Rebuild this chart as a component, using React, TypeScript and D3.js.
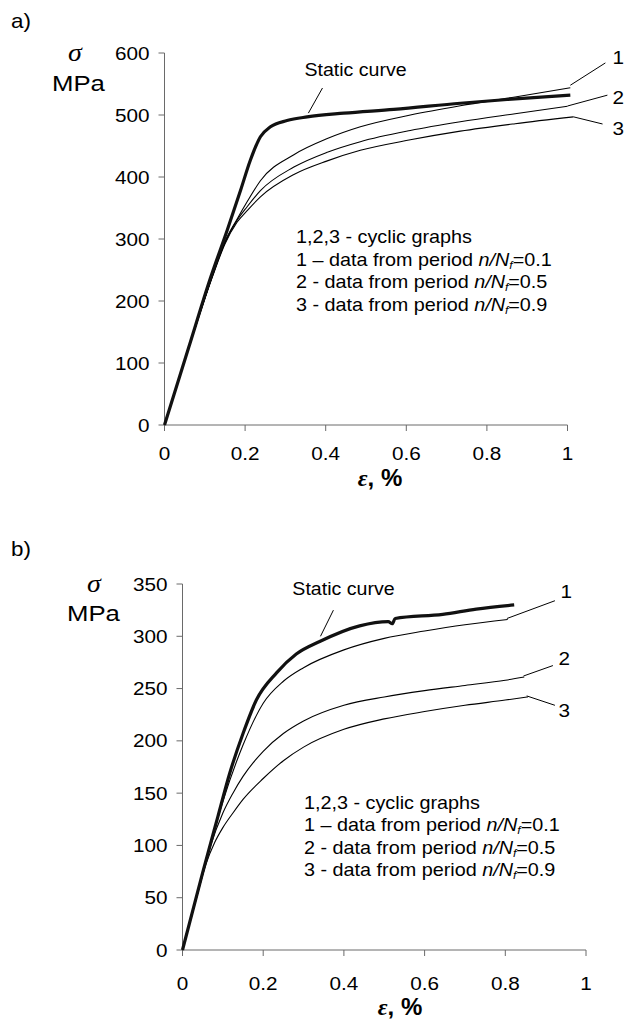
import React from 'react';
import * as d3 from 'd3';

// ---------- Panel a) data ----------
const aXTicks = [0, 0.2, 0.4, 0.6, 0.8, 1];
const aYTicks = [0, 100, 200, 300, 400, 500, 600];
const aStatic: [number, number][] = [
  [0, 0], [0.06, 125], [0.114, 237], [0.156, 315], [0.189, 379], [0.213, 427], [0.238, 465],
  [0.263, 481], [0.304, 491], [0.354, 497], [0.445, 503], [0.569, 509], [0.734, 519],
  [0.85, 525], [1.007, 532],
];
const aCyc1: [number, number][] = [
  [0, 0], [0.06, 124], [0.12, 243], [0.15, 296], [0.18, 332], [0.205, 360], [0.238, 394],
  [0.321, 436], [0.404, 462], [0.486, 481], [0.61, 500], [0.734, 515], [0.87, 529], [1.007, 544],
];
const aCyc2: [number, number][] = [
  [0, 0], [0.06, 124], [0.12, 242], [0.15, 294], [0.18, 330], [0.205, 352], [0.238, 378],
  [0.321, 416], [0.404, 440], [0.486, 457], [0.61, 475], [0.734, 489], [0.87, 502], [1.0, 514],
];
const aCyc3: [number, number][] = [
  [0, 0], [0.06, 124], [0.12, 241], [0.15, 292], [0.18, 327], [0.207, 347], [0.238, 368],
  [0.321, 404], [0.404, 426], [0.486, 443], [0.61, 460], [0.734, 474], [0.87, 486], [1.015, 497],
];
// leader lines: [from, to] and label anchor (data coords)
const aLeaders = [
  { label: '1', from: [1.007, 548], to: [1.094, 584], at: [1.126, 592] },
  { label: '2', from: [1.0, 514.5], to: [1.099, 532], at: [1.126, 528] },
  { label: '3', from: [1.015, 497], to: [1.087, 485.5], at: [1.126, 479] },
];
const aStaticLeader = { from: [0.357, 503], to: [0.392, 543.5], at: [0.474, 572] };

// ---------- Panel b) data ----------
const bXTicks = [0, 0.2, 0.4, 0.6, 0.8, 1];
const bYTicks = [0, 50, 100, 150, 200, 250, 300, 350];
const bStatic: [number, number][] = [
  [0, 0], [0.05, 74], [0.088, 128], [0.117, 169], [0.15, 207], [0.183, 239], [0.233, 265],
  [0.282, 283], [0.34, 295], [0.439, 310], [0.51, 314], [0.52, 312], [0.527, 317],
  [0.645, 321], [0.728, 326], [0.822, 330],
];
const bCyc1: [number, number][] = [
  [0, 0], [0.05, 73], [0.1, 142], [0.15, 196], [0.2, 236], [0.25, 257], [0.3, 270],
  [0.4, 287], [0.5, 298], [0.6, 305], [0.7, 311], [0.806, 316],
];
const bCyc2: [number, number][] = [
  [0, 0], [0.05, 72], [0.07, 100], [0.1, 131], [0.125, 150], [0.15, 166], [0.2, 190],
  [0.25, 207], [0.3, 219], [0.4, 234], [0.5, 242], [0.6, 248], [0.7, 253], [0.8, 258], [0.847, 261],
];
const bCyc3: [number, number][] = [
  [0, 0], [0.03, 43], [0.058, 82], [0.08, 103], [0.1, 117], [0.125, 131], [0.15, 144],
  [0.2, 164], [0.25, 181], [0.3, 194], [0.4, 211], [0.5, 221], [0.6, 228], [0.7, 234],
  [0.8, 239], [0.856, 242],
];
const bLeaders = [
  { label: '1', from: [0.804, 317], to: [0.923, 334], at: [0.951, 343] },
  { label: '2', from: [0.845, 262], to: [0.918, 272], at: [0.946, 279] },
  { label: '3', from: [0.853, 243], to: [0.923, 234], at: [0.946, 229] },
];
const bStaticLeader = { from: [0.342, 300], to: [0.374, 325], at: [0.399, 345] };

const legendLines = [
  { lead: '1,2,3 - cyclic graphs', val: '' },
  { lead: '1 \u2013 data from period ', val: '0.1' },
  { lead: '2 - data from period ', val: '0.5' },
  { lead: '3 - data from period ', val: '0.9' },
];

const FONT = 'Liberation Sans, Arial, sans-serif';
const SERIF = 'Liberation Serif, Times New Roman, serif';
const SX = 1.12;

function T(props: {
  x: number; y: number; size: number; anchor?: string; children: React.ReactNode;
  weight?: string | number; italic?: boolean; family?: string;
}) {
  const { x, y, size, anchor = 'start', children, weight, italic, family } = props;
  return (
    <text
      transform={`translate(${x},${y}) scale(${SX},1)`}
      fontSize={size}
      textAnchor={anchor}
      fontFamily={family || FONT}
      fontWeight={weight}
      fontStyle={italic ? 'italic' : undefined}
      fill="#000"
    >
      {children}
    </text>
  );
}

type PanelProps = {
  letter: string;
  letterY: number;
  x0: number; x1: number; y0: number; y1: number;
  yMax: number;
  xTicks: number[]; yTicks: number[];
  stat: [number, number][];
  cycles: [number, number][][];
  leaders: { label: string; from: number[]; to: number[]; at: number[] }[];
  staticLeader: { from: number[]; to: number[]; at: number[] };
  legendX: number; legendY: number;
  sigma: { x: number; y: number }; mpa: { x: number; y: number };
  epsX: number; epsY: number;
  xLabelY: number;
};

function Panel(p: PanelProps) {
  const xs = d3.scaleLinear().domain([0, 1]).range([p.x0, p.x1]);
  const ys = d3.scaleLinear().domain([0, p.yMax]).range([p.y0, p.y1]);
  const line = d3.line<[number, number]>().x(d => xs(d[0])).y(d => ys(d[1])).curve(d3.curveMonotoneX);
  const axisColor = '#6a6a6a';
  return (
    <g>
      <T x={11} y={p.letterY} size={20}>{p.letter}</T>
      {/* y axis */}
      <line x1={p.x0} x2={p.x0} y1={ys(0)} y2={ys(p.yMax)} stroke={axisColor} strokeWidth={1} />
      {p.yTicks.map(t => (
        <g key={'y' + t}>
          <line x1={p.x0 - 6} x2={p.x0} y1={ys(t)} y2={ys(t)} stroke={axisColor} strokeWidth={1} />
          <T x={p.x0 - 15} y={ys(t) + 6.5} size={18.5} anchor="end">{t}</T>
        </g>
      ))}
      {/* x axis */}
      <line x1={xs(0)} x2={xs(1)} y1={p.y0} y2={p.y0} stroke={axisColor} strokeWidth={1} />
      {p.xTicks.map(t => (
        <g key={'x' + t}>
          <line x1={xs(t)} x2={xs(t)} y1={p.y0} y2={p.y0 + 6} stroke={axisColor} strokeWidth={1} />
          <T x={xs(t)} y={p.xLabelY} size={18.5} anchor="middle">{String(t)}</T>
        </g>
      ))}
      {/* axis titles */}
      <T x={p.sigma.x} y={p.sigma.y} size={25} italic family={SERIF}>σ</T>
      <T x={p.mpa.x} y={p.mpa.y} size={23}>MPa</T>
      <text x={p.epsX} y={p.epsY} fontSize={24} fontWeight="bold" fontFamily={FONT} textAnchor="middle">
        <tspan fontFamily={SERIF} fontStyle="italic">ε</tspan>, %
      </text>
      {/* curves */}
      {p.cycles.map((c, i) => (
        <path key={'c' + i} d={line(c) || ''} fill="none" stroke="#000" strokeWidth={1.1} />
      ))}
      <path d={line(p.stat) || ''} fill="none" stroke="#111" strokeWidth={3.2} strokeLinejoin="round" />
      {/* leaders */}
      {p.leaders.map(l => (
        <g key={'l' + l.label}>
          <line x1={xs(l.from[0])} y1={ys(l.from[1])} x2={xs(l.to[0])} y2={ys(l.to[1])} stroke="#000" strokeWidth={1} />
          <T x={xs(l.at[0])} y={ys(l.at[1]) + 6.5} size={18.5} anchor="middle">{l.label}</T>
        </g>
      ))}
      <line x1={xs(p.staticLeader.from[0])} y1={ys(p.staticLeader.from[1])} x2={xs(p.staticLeader.to[0])} y2={ys(p.staticLeader.to[1])} stroke="#000" strokeWidth={1} />
      <T x={xs(p.staticLeader.at[0])} y={ys(p.staticLeader.at[1]) + 6} size={17.5} anchor="middle">Static curve</T>
      {/* legend */}
      {legendLines.map((l, i) => (
        <text key={'lg' + i} transform={`translate(${p.legendX},${p.legendY + i * 22.5}) scale(1.1,1)`} fontSize={18} fontFamily={FONT} fill="#000">
          {l.lead}
          {l.val && (
            <>
              <tspan fontStyle="italic">n/N</tspan>
              <tspan fontStyle="italic" fontSize={11} dy={3}>f</tspan>
              <tspan dy={-3}>={l.val}</tspan>
            </>
          )}
        </text>
      ))}
    </g>
  );
}

export default function App() {
  return (
    <svg width={630} height={1023} style={{ position: 'absolute', left: 0, top: 0, background: '#fff' }}>
      <rect width={630} height={1023} fill="#fff" />
      <Panel
        letter="a)" letterY={28}
        x0={164.5} x1={567.5} y0={425} y1={53} yMax={600}
        xTicks={aXTicks} yTicks={aYTicks}
        stat={aStatic} cycles={[aCyc1, aCyc2, aCyc3]}
        leaders={aLeaders} staticLeader={aStaticLeader}
        legendX={296} legendY={243}
        sigma={{ x: 68, y: 61 }} mpa={{ x: 52, y: 91 }}
        epsX={380} epsY={486} xLabelY={460}
      />
      <Panel
        letter="b)" letterY={556}
        x0={182.5} x1={586} y0={950} y1={584} yMax={350}
        xTicks={bXTicks} yTicks={bYTicks}
        stat={bStatic} cycles={[bCyc1, bCyc2, bCyc3]}
        leaders={bLeaders} staticLeader={bStaticLeader}
        legendX={304} legendY={808.5}
        sigma={{ x: 87, y: 592 }} mpa={{ x: 67, y: 621 }}
        epsX={400} epsY={1015} xLabelY={990}
      />
    </svg>
  );
}
